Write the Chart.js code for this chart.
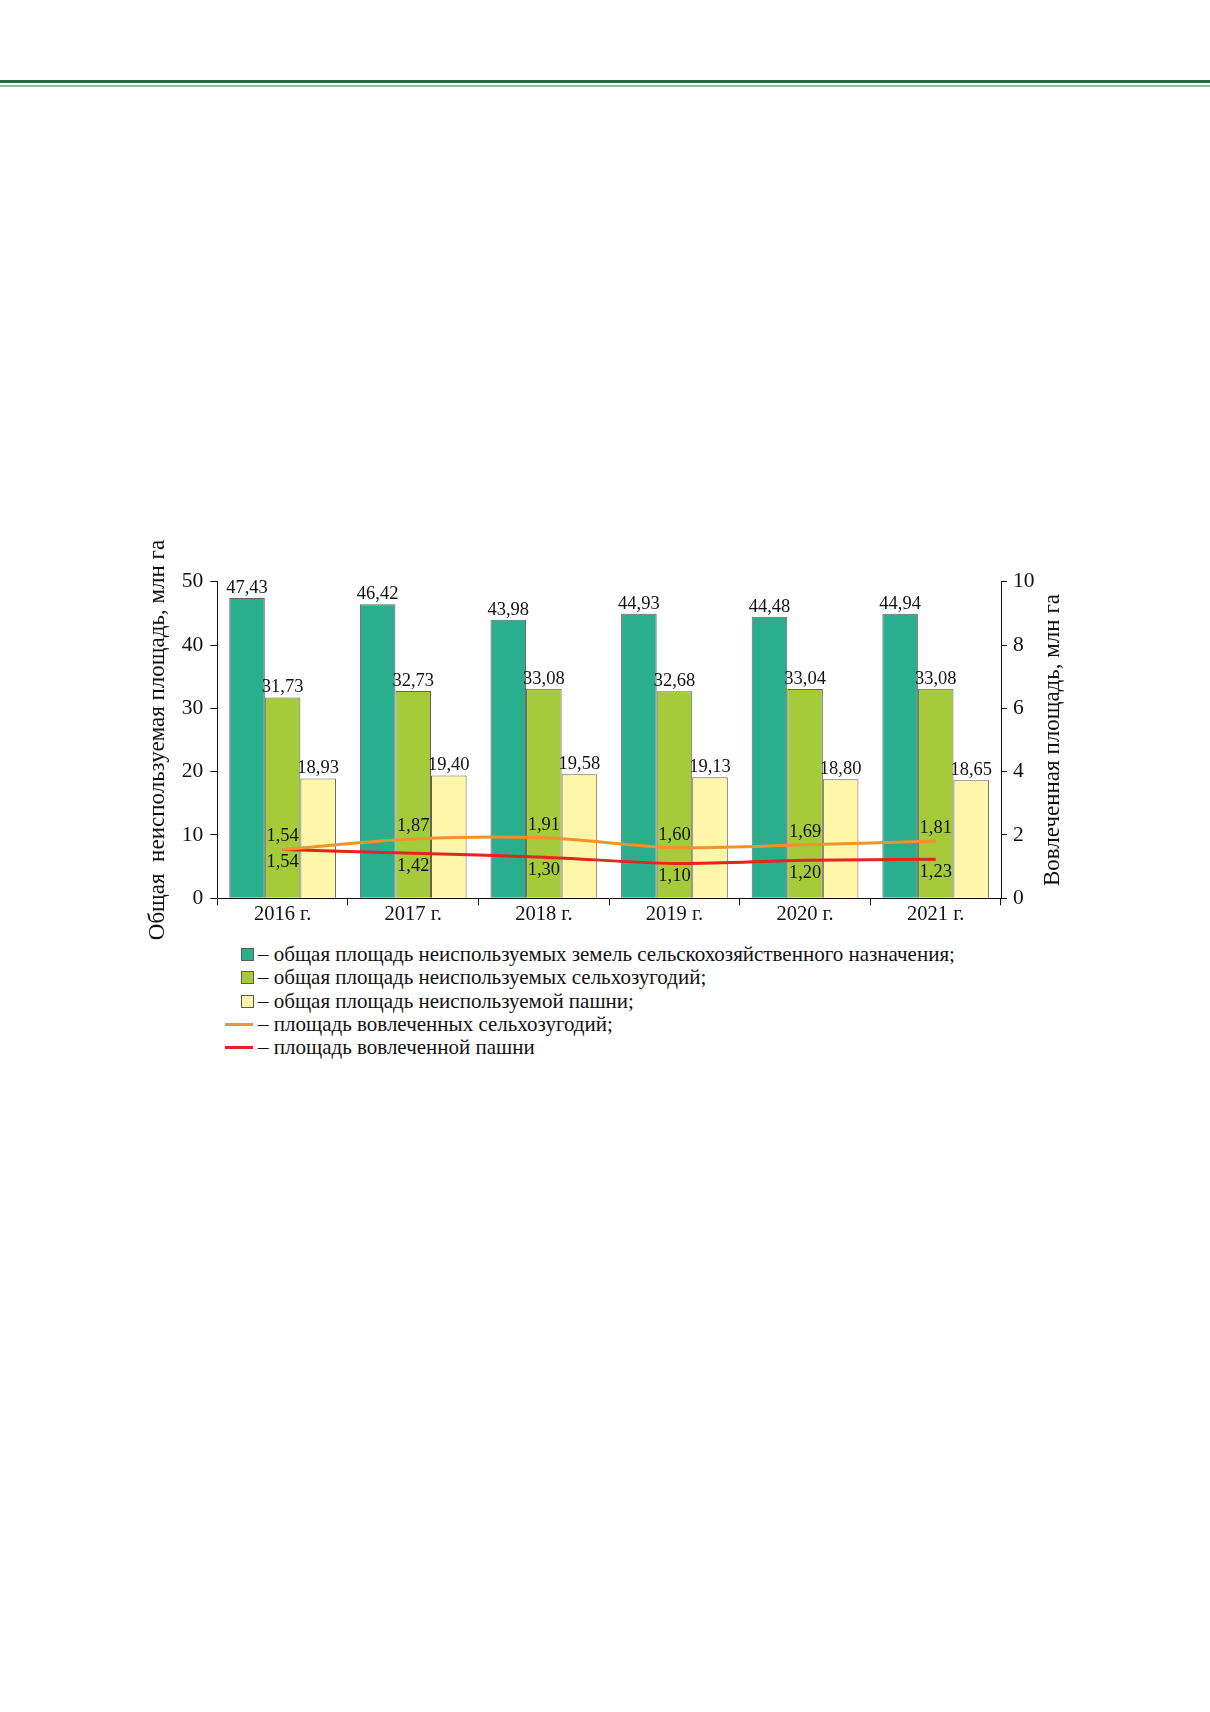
<!DOCTYPE html>
<html>
<head>
<meta charset="utf-8">
<script src="https://cdn.jsdelivr.net/npm/chart.js@4.4.0/dist/chart.umd.min.js"></script>
<style>
  html, body { margin: 0; padding: 0; background: #fff; }
  body { width: 1210px; height: 1712px; position: relative; overflow: hidden; }
  .rule1 { position: absolute; left: 0; top: 80px; width: 1210px; height: 3px; background: #1b6e3c; }
  .rule2 { position: absolute; left: 0; top: 85px; width: 1210px; height: 2px; background: #84c198; }
  #wrap { position: absolute; left: 120px; top: 520px; width: 981px; height: 420px; }
  .legend { position: absolute; left: 225px; top: 943px; font-family: 'Liberation Serif', serif; font-size: 21px; line-height: 23.3px; color: #111; }
  .row { display: flex; align-items: center; height: 23.3px; white-space: nowrap; }
  .mk { width: 28px; height: 23.3px; position: relative; flex: none; }
  .box { position: absolute; left: 16px; top: 5px; width: 11px; height: 11px; border: 1px solid #5a5a5a; }
  .ln { position: absolute; left: 0; top: 10px; width: 28px; height: 3px; }
  .tx { margin-left: 5px; }
</style>
</head>
<body>
<div class="rule1"></div>
<div class="rule2"></div>
<div id="wrap"><canvas id="c"></canvas></div>
<div class="legend" id="legend"></div>
<script>
const categories = ['2016 г.', '2017 г.', '2018 г.', '2019 г.', '2020 г.', '2021 г.'];
const unusedAgriLandTotal = [47.43, 46.42, 43.98, 44.93, 44.48, 44.94];
const unusedFarmland = [31.73, 32.73, 33.08, 32.68, 33.04, 33.08];
const unusedArable = [18.93, 19.40, 19.58, 19.13, 18.80, 18.65];
const involvedFarmland = [1.54, 1.87, 1.91, 1.60, 1.69, 1.81];
const involvedArable = [1.54, 1.42, 1.30, 1.10, 1.20, 1.23];

const seriesNames = [
  'общая площадь неиспользуемых земель сельскохозяйственного назначения;',
  'общая площадь неиспользуемых сельхозугодий;',
  'общая площадь неиспользуемой пашни;',
  'площадь вовлеченных сельхозугодий;',
  'площадь вовлеченной пашни'
];
const leftTitle = 'Общая  неиспользуемая площадь, млн га';
const rightTitle = 'Вовлеченная площадь, млн га';

const colTeal = '#2bae8e', colGreen = '#a6cb3a', colYellow = '#fff6aa', colOrange = '#f2922c', colRed = '#e3241f';
const FONT = "'Liberation Serif', 'Times New Roman', serif";

const fmt = v => v.toFixed(2).replace('.', ',');

const labelPlugin = {
  id: 'valueLabels',
  afterDatasetsDraw(chart) {
    const ctx = chart.ctx;
    ctx.save();
    ctx.font = '18.5px ' + FONT;
    ctx.fillStyle = '#111';
    ctx.textAlign = 'center';
    chart.data.datasets.forEach((ds, i) => {
      const meta = chart.getDatasetMeta(i);
      meta.data.forEach((el, j) => {
        const v = ds.data[j];
        if (ds.type === 'line') {
          ctx.textBaseline = 'middle';
          ctx.fillText(fmt(v), el.x, ds.labelPos === 'above' ? el.y - 13 : el.y + 13);
        } else {
          ctx.textBaseline = 'alphabetic';
          ctx.fillText(fmt(v), el.x, el.y - 5);
        }
      });
    });
    ctx.restore();
  }
};

const rightTitlePlugin = {
  id: 'rightTitle',
  afterDraw(chart) {
    const ctx = chart.ctx;
    const ca = chart.chartArea;
    ctx.save();
    ctx.font = '23px ' + FONT;
    ctx.fillStyle = '#111';
    ctx.textAlign = 'center';
    ctx.textBaseline = 'middle';
    ctx.translate(933, (ca.top + ca.bottom) / 2);
    ctx.rotate(-Math.PI / 2);
    ctx.fillText(rightTitle, 0, 0);
    ctx.restore();
  }
};

const barStyle = { borderColor: 'rgba(70,70,70,0.85)', borderWidth: 1, yAxisID: 'y', order: 2 };

new Chart(document.getElementById('c'), {
  type: 'bar',
  data: {
    labels: categories,
    datasets: [
      Object.assign({ label: seriesNames[0], data: unusedAgriLandTotal, backgroundColor: colTeal }, barStyle),
      Object.assign({ label: seriesNames[1], data: unusedFarmland, backgroundColor: colGreen }, barStyle),
      Object.assign({ label: seriesNames[2], data: unusedArable, backgroundColor: colYellow }, barStyle),
      { type: 'line', label: seriesNames[3], data: involvedFarmland, borderColor: colOrange, borderWidth: 3,
        pointRadius: 0, tension: 0.3, yAxisID: 'y1', order: 1, labelPos: 'above' },
      { type: 'line', label: seriesNames[4], data: involvedArable, borderColor: colRed, borderWidth: 3,
        pointRadius: 0, tension: 0.3, yAxisID: 'y1', order: 1, labelPos: 'below' }
    ]
  },
  options: {
    responsive: true,
    maintainAspectRatio: false,
    animation: false,
    layout: { padding: { top: 61.7, left: 0, right: 0, bottom: 0 } },
    datasets: { bar: { categoryPercentage: 0.817, barPercentage: 1 } },
    plugins: { legend: { display: false }, tooltip: { enabled: false } },
    scales: {
      x: {
        grid: { drawOnChartArea: false, tickLength: 7, color: '#111', offset: true },
        border: { color: '#111', width: 1 },
        ticks: { color: '#111', font: { family: FONT, size: 20.5, lineHeight: 1 }, padding: -1 },
        afterFit: s => { s.height = 41.7; }
      },
      y: {
        position: 'left', min: 0, max: 50,
        grid: { drawOnChartArea: false, tickLength: 7, color: '#111' },
        border: { color: '#111', width: 1 },
        ticks: { stepSize: 10, color: '#111', font: { family: FONT, size: 21.5 }, padding: 7 },
        title: { display: true, text: leftTitle, color: '#111', font: { family: FONT, size: 23 }, padding: { top: 24, bottom: 0 } },
        afterFit: s => { s.width = 97.3; }
      },
      y1: {
        position: 'right', min: 0, max: 10,
        grid: { drawOnChartArea: false, tickLength: 6, color: '#111' },
        border: { color: '#111', width: 1 },
        ticks: { stepSize: 2, color: '#111', font: { family: FONT, size: 21.5 }, padding: 6 },
        afterFit: s => { s.width = 100; }
      }
    }
  },
  plugins: [labelPlugin, rightTitlePlugin]
});

// HTML legend built from the series names and colours
const legend = document.getElementById('legend');
const markers = [
  { kind: 'box', color: colTeal }, { kind: 'box', color: colGreen }, { kind: 'box', color: colYellow },
  { kind: 'ln', color: colOrange }, { kind: 'ln', color: colRed }
];
seriesNames.forEach((name, i) => {
  const row = document.createElement('div'); row.className = 'row';
  const mk = document.createElement('span'); mk.className = 'mk';
  const m = document.createElement('span'); m.className = markers[i].kind; m.style.background = markers[i].color;
  mk.appendChild(m);
  const tx = document.createElement('span'); tx.className = 'tx'; tx.textContent = '– ' + name;
  row.appendChild(mk); row.appendChild(tx);
  legend.appendChild(row);
});
</script>
</body>
</html>
